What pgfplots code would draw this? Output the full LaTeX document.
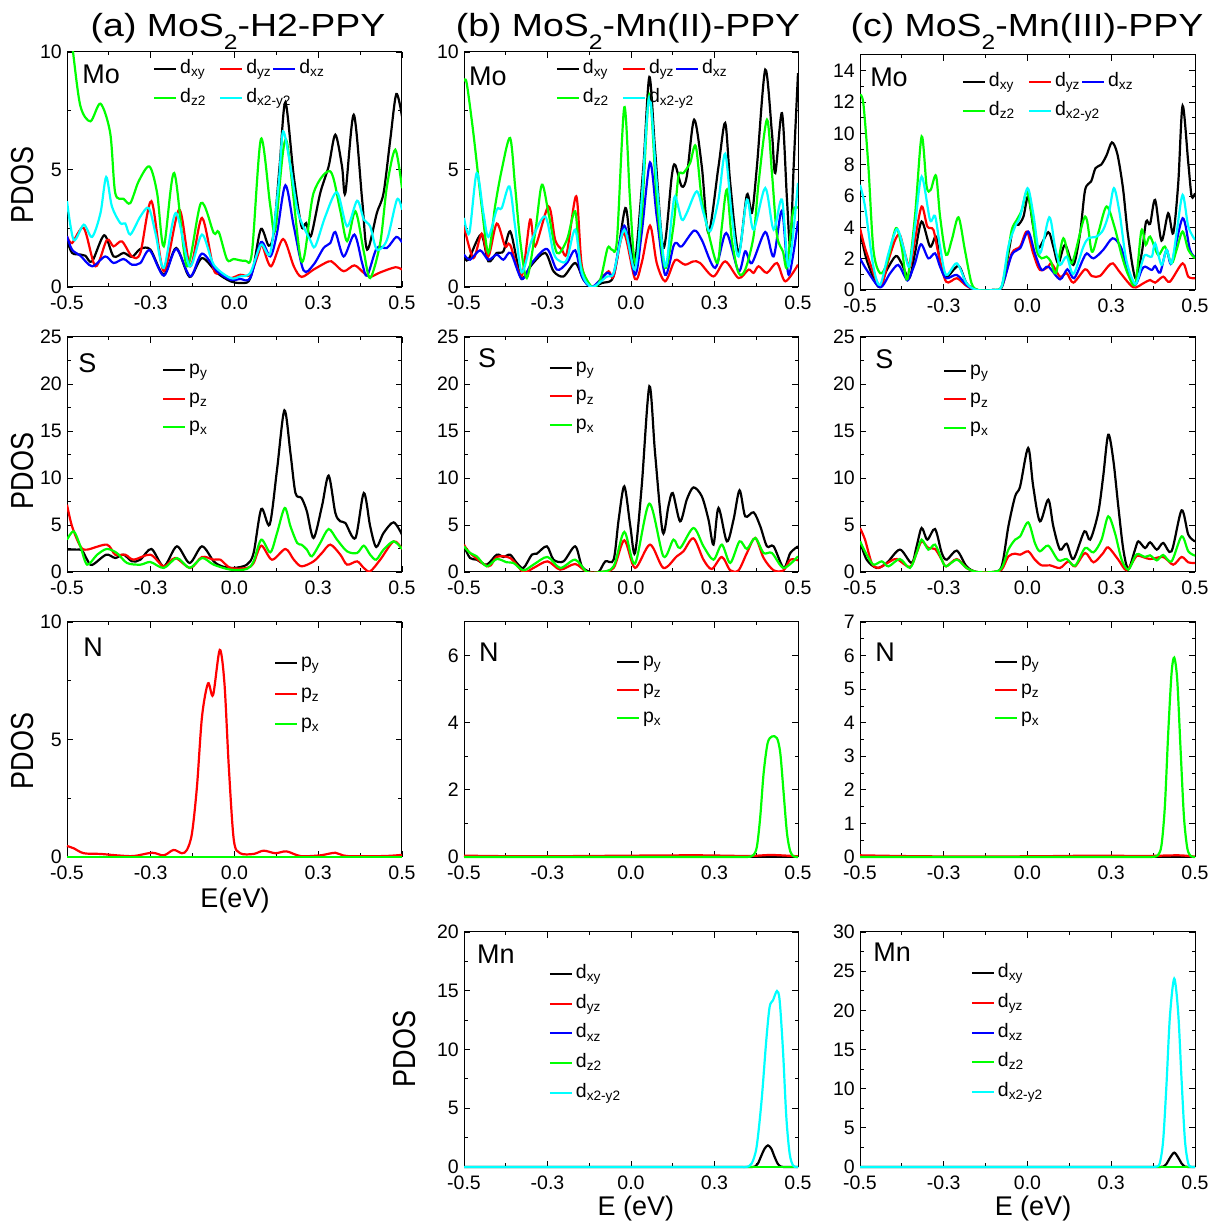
\documentclass[border=0pt]{standalone}
\usepackage{pgfplots}
\pgfplotsset{compat=1.18}
\usepackage{fontspec}
\setmainfont{Liberation Sans}
\definecolor{cgreen}{RGB}{0,255,0}
\definecolor{ccyan}{RGB}{0,255,255}
\definecolor{cred}{RGB}{255,0,0}
\definecolor{cblue}{RGB}{0,0,255}
\newcommand{\lf}{\fontsize{19.5}{21}\selectfont}
\newcommand{\ef}{\fontsize{27}{30}\selectfont}
\pgfplotsset{
  pdos/.style={
    scale only axis, width=335pt, height=235pt, anchor=south west,
    xmin=-0.5, xmax=0.5, ymin=0,
    xtick={-0.5,-0.25,0,0.25,0.5},
    xticklabels={-0.5,-0.3,0.0,0.3,0.5},
    minor x tick num=1, minor y tick num=1,
    tick align=inside,
    major tick length=6pt, minor tick length=3.5pt,
    tick style={black, line width=0.8pt},
    axis line style={line width=1pt},
    tick label style={font=\fontsize{19.5}{20}\selectfont, inner sep=0pt},
    xticklabel style={yshift=-9pt},
    yticklabel style={xshift=-5pt},
    /pgf/number format/assume math mode=true,
    legend style={draw=none, fill=none, anchor=north west, inner sep=0pt, outer sep=0pt, font=\lf,
      cells={anchor=west}, nodes={inner sep=1pt, text height=14pt, text depth=5pt}},
    legend image code/.code={\draw[#1, line width=2pt] (0pt,0pt) -- (22pt,0pt); \path (24pt,0pt);},
    every axis plot/.append style={line width=2.2pt, smooth, tension=0.5},
  }
}
\begin{document}
\begin{tikzpicture}
\useasboundingbox (0pt,0pt) rectangle (1219pt,1229pt);

% ---------------- (a) Mo
\begin{axis}[pdos, at={(67pt,942pt)}, ymax=10, ytick={0,5,10}, legend columns=3,
  legend style={at={(axis description cs:0.257,0.972)}, row sep=8pt}]
\addplot[black] coordinates {(-0.5,2.0) (-0.485,1.45) (-0.46,1.38) (-0.445,1.33) (-0.425,1.09) (-0.389,2.2) (-0.361,1.3) (-0.331,1.45) (-0.306,1.28) (-0.281,1.62) (-0.251,1.59) (-0.211,0.52) (-0.174,1.66) (-0.134,0.43) (-0.097,1.23) (-0.052,0.6) (-0.012,0.24) (0.017,0.17) (0.042,0.24) (0.057,0.88) (0.079,2.47) (0.102,1.76) (0.117,2.3) (0.135,5.2) (0.152,7.86) (0.177,4.7) (0.2,2.58) (0.214,2.72) (0.228,2.16) (0.256,4.0) (0.281,5.13) (0.301,6.48) (0.321,5.13) (0.331,4.0) (0.356,7.33) (0.381,3.72) (0.396,1.59) (0.425,3.15) (0.445,4.0) (0.465,6.27) (0.483,8.21) (0.5,7.26)};
\addlegendentry{d\textsubscript{xy}\hspace*{13pt}}
\addplot[cred] coordinates {(-0.5,2.16) (-0.485,1.87) (-0.45,2.51) (-0.415,0.88) (-0.381,2.0) (-0.361,1.73) (-0.336,1.94) (-0.306,1.3) (-0.281,1.45) (-0.248,3.65) (-0.211,0.67) (-0.165,3.29) (-0.132,0.88) (-0.097,2.94) (-0.062,0.74) (-0.042,0.6) (-0.012,0.38) (0.017,0.52) (0.047,0.52) (0.072,1.45) (0.082,1.8) (0.109,0.88) (0.145,2.04) (0.177,0.88) (0.2,0.43) (0.236,0.74) (0.281,1.09) (0.296,1.02) (0.326,0.67) (0.358,0.92) (0.386,0.6) (0.405,0.43) (0.435,0.62) (0.48,0.84) (0.5,0.74)};
\addlegendentry{d\textsubscript{yz}}
\addplot[cblue] coordinates {(-0.5,2.16) (-0.485,1.59) (-0.46,1.33) (-0.425,0.88) (-0.386,1.3) (-0.361,1.02) (-0.331,1.19) (-0.306,0.95) (-0.281,1.02) (-0.253,1.56) (-0.211,0.48) (-0.174,1.62) (-0.132,0.45) (-0.097,1.42) (-0.052,0.67) (-0.012,0.31) (0.017,0.34) (0.047,0.38) (0.079,1.91) (0.107,1.3) (0.127,2.3) (0.152,4.33) (0.177,2.58) (0.206,0.71) (0.236,0.95) (0.266,1.66) (0.286,1.87) (0.301,2.34) (0.326,1.3) (0.358,2.23) (0.381,1.02) (0.396,0.48) (0.425,1.66) (0.455,1.66) (0.483,2.13) (0.5,1.9)};
\addlegendentry{d\textsubscript{xz}}
\addplot[cgreen] coordinates {(-0.5,12.3) (-0.482,10.0) (-0.46,7.7) (-0.43,7.05) (-0.40,7.8) (-0.371,6.55) (-0.356,4.0) (-0.331,3.75) (-0.311,3.57) (-0.286,4.5) (-0.254,5.13) (-0.231,4.0) (-0.211,1.73) (-0.18,4.85) (-0.142,0.88) (-0.1,3.57) (-0.062,2.3) (-0.047,2.34) (-0.022,1.16) (-0.002,1.19) (0.032,1.12) (0.052,1.45) (0.079,6.3) (0.107,3.43) (0.122,2.44) (0.154,6.27) (0.2,1.09) (0.236,4.0) (0.286,4.92) (0.315,3.3) (0.336,1.95) (0.361,3.22) (0.386,1.5) (0.405,0.38) (0.435,1.87) (0.455,4.28) (0.48,5.84) (0.5,4.2)};
\addlegendentry{d\textsubscript{z2}}
\addplot[ccyan] coordinates {(-0.5,3.65) (-0.48,2.0) (-0.45,2.65) (-0.425,2.13) (-0.4,3.15) (-0.383,4.68) (-0.366,3.43) (-0.341,2.72) (-0.326,2.7) (-0.311,2.23) (-0.281,3.0) (-0.256,3.36) (-0.236,2.3) (-0.211,0.81) (-0.175,3.15) (-0.134,0.88) (-0.097,2.23) (-0.062,0.95) (-0.012,0.38) (0.017,0.45) (0.047,0.6) (0.079,1.8) (0.107,1.45) (0.132,4.43) (0.145,6.62) (0.167,5.13) (0.19,3.15) (0.226,2.0) (0.241,1.73) (0.271,3.0) (0.306,4.03) (0.336,2.58) (0.366,3.67) (0.386,2.87) (0.405,2.58) (0.425,1.59) (0.455,2.0) (0.485,3.72) (0.5,3.29)};
\addlegendentry{\makebox[0pt][l]{d\textsubscript{x2-y2}}}
\node[anchor=north west, inner sep=0pt, font=\ef] at (axis description cs:0.045,0.945) {Mo};
\end{axis}

% ---------------- (b) Mo
\begin{axis}[pdos, at={(464pt,942pt)}, width=334pt, ymax=10, ytick={0,5,10}, legend columns=3,
  legend style={at={(axis description cs:0.275,0.972)}, row sep=8pt}]
\addplot[black] coordinates {(-0.5,1.3) (-0.487,1.16) (-0.449,2.23) (-0.427,1.09) (-0.402,1.45) (-0.382,1.52) (-0.362,2.37) (-0.342,1.16) (-0.327,0.34) (-0.297,0.95) (-0.257,1.45) (-0.232,0.67) (-0.202,0.45) (-0.167,1.02) (-0.142,0.31) (-0.117,0.0) (-0.087,0.17) (-0.057,0.31) (-0.042,1.16) (-0.017,3.36) (-0.003,2.0) (0.012,1.02) (0.037,5.13) (0.055,8.94) (0.072,5.84) (0.097,1.66) (0.122,4.71) (0.132,5.2) (0.152,4.28) (0.167,4.71) (0.189,7.12) (0.212,5.13) (0.232,2.3) (0.262,5.13) (0.282,6.98) (0.297,4.43) (0.322,1.45) (0.347,3.93) (0.362,3.15) (0.377,5.13) (0.402,9.25) (0.422,6.55) (0.432,4.85) (0.452,7.4) (0.467,3.72) (0.477,1.73) (0.487,5.13) (0.5,9.1)};
\addlegendentry{d\textsubscript{xy}\hspace*{13pt}}
\addplot[cred] coordinates {(-0.5,2.58) (-0.472,1.23) (-0.447,2.27) (-0.427,1.3) (-0.402,2.7) (-0.377,1.73) (-0.362,1.8) (-0.327,0.48) (-0.302,2.87) (-0.287,1.73) (-0.247,3.43) (-0.227,2.0) (-0.207,1.59) (-0.192,1.45) (-0.164,3.86) (-0.147,0.88) (-0.117,0) (-0.092,0.31) (-0.067,0.67) (-0.052,0.45) (-0.022,2.3) (0.012,0.34) (0.032,1.02) (0.057,2.61) (0.077,1.02) (0.102,0.24) (0.127,1.02) (0.137,1.16) (0.162,0.95) (0.187,1.09) (0.207,1.02) (0.247,0.45) (0.282,1.09) (0.322,0.38) (0.352,0.74) (0.367,0.6) (0.382,0.88) (0.407,0.6) (0.437,1.02) (0.462,0.24) (0.5,0.95)};
\addlegendentry{d\textsubscript{yz}}
\addplot[cblue] coordinates {(-0.5,1.38) (-0.482,1.16) (-0.452,1.56) (-0.427,1.16) (-0.402,1.38) (-0.382,1.16) (-0.36,1.45) (-0.327,0.34) (-0.297,1.02) (-0.252,1.62) (-0.222,0.74) (-0.192,1.02) (-0.167,1.56) (-0.147,0.45) (-0.117,0) (-0.072,0.6) (-0.052,0.57) (-0.02,2.61) (0.012,0.52) (0.032,2.3) (0.057,5.3) (0.077,3.0) (0.102,0.52) (0.127,1.73) (0.137,1.87) (0.152,1.73) (0.189,2.4) (0.212,2.0) (0.252,0.81) (0.285,2.3) (0.322,0.67) (0.342,1.52) (0.362,1.02) (0.402,2.34) (0.427,1.3) (0.452,3.25) (0.472,0.52) (0.5,2.8)};
\addlegendentry{d\textsubscript{xz}}
\addplot[cgreen] coordinates {(-0.5,8.75) (-0.492,8.68) (-0.472,6.55) (-0.447,3.43) (-0.427,1.45) (-0.407,3.43) (-0.387,4.99) (-0.362,6.34) (-0.347,4.28) (-0.332,2.0) (-0.312,0.38) (-0.287,2.3) (-0.267,4.35) (-0.247,3.15) (-0.222,1.45) (-0.192,2.0) (-0.167,3.22) (-0.152,1.02) (-0.117,0) (-0.092,0.31) (-0.07,1.66) (-0.057,1.59) (-0.042,2.0) (-0.02,7.65) (-0.003,3.72) (0.012,1.02) (0.032,3.0) (0.055,8.2) (0.077,3.72) (0.102,0.81) (0.127,2.58) (0.142,4.71) (0.157,4.85) (0.177,5.28) (0.194,5.99) (0.212,3.72) (0.237,2.0) (0.259,1.02) (0.272,2.58) (0.287,4.14) (0.302,2.0) (0.322,0.6) (0.342,0.74) (0.367,2.16) (0.382,4.43) (0.407,7.12) (0.422,4.85) (0.437,2.2) (0.455,1.5) (0.467,0.85) (0.485,3.2) (0.5,3.36)};
\addlegendentry{d\textsubscript{z2}}
\addplot[ccyan] coordinates {(-0.5,2.94) (-0.484,2.3) (-0.462,4.85) (-0.442,3.15) (-0.427,2.13) (-0.402,3.29) (-0.387,3.36) (-0.364,4.28) (-0.347,2.58) (-0.327,0.62) (-0.297,2.0) (-0.257,3.0) (-0.232,1.45) (-0.212,1.09) (-0.192,1.16) (-0.167,2.44) (-0.147,0.6) (-0.117,0) (-0.072,0.45) (-0.052,0.6) (-0.02,2.44) (0.012,0.74) (0.032,3.72) (0.055,8.1) (0.077,4.43) (0.102,0.88) (0.122,3.0) (0.132,3.86) (0.152,2.87) (0.167,3.15) (0.197,4.07) (0.217,3.15) (0.237,2.37) (0.262,3.72) (0.282,5.67) (0.302,3.0) (0.322,1.3) (0.347,3.72) (0.367,2.44) (0.402,4.21) (0.427,2.44) (0.452,3.72) (0.472,0.88) (0.5,4.43)};
\addlegendentry{\makebox[0pt][l]{d\textsubscript{x2-y2}}}
\node[anchor=north west, inner sep=0pt, font=\ef] at (axis description cs:0.015,0.936) {Mo};
\end{axis}

% ---------------- (c) Mo
\begin{axis}[pdos, at={(860pt,939pt)}, ymax=15, ytick={0,2,...,14}, legend columns=3,
  legend style={at={(axis description cs:0.304,0.93)}, row sep=8pt}]
\addplot[black] coordinates {(-0.5,3.84) (-0.48,1.92) (-0.445,0.21) (-0.42,1.28) (-0.393,2.17) (-0.376,1.7) (-0.353,0.75) (-0.336,2.34) (-0.316,4.37) (-0.291,2.77) (-0.273,3.41) (-0.261,1.7) (-0.243,0.81) (-0.206,1.53) (-0.182,0.43) (-0.152,0) (-0.102,0) (-0.077,0.21) (-0.057,2.34) (-0.042,4.05) (-0.027,4.16) (-0.012,4.69) (0.002,5.97) (0.017,4.05) (0.032,2.66) (0.062,3.69) (0.077,2.77) (0.092,1.7) (0.112,2.88) (0.137,1.6) (0.157,3.62) (0.172,6.39) (0.19,6.93) (0.203,7.78) (0.22,8.0) (0.236,8.6) (0.252,9.42) (0.268,8.7) (0.285,6.5) (0.3,3.5) (0.322,0.75) (0.341,2.34) (0.354,4.37) (0.366,4.22) (0.381,5.75) (0.4,3.15) (0.42,4.9) (0.435,3.62) (0.45,6.82) (0.463,11.76) (0.48,8.1) (0.49,5.97) (0.5,6.18)};
\addlegendentry{d\textsubscript{xy}\hspace*{13pt}}
\addplot[cred] coordinates {(-0.5,3.94) (-0.48,2.34) (-0.44,0.21) (-0.415,1.92) (-0.395,3.2) (-0.381,3.52) (-0.366,2.34) (-0.351,1.49) (-0.336,3.2) (-0.316,5.33) (-0.299,4.05) (-0.281,3.84) (-0.266,2.34) (-0.243,0.53) (-0.211,0.75) (-0.182,0.26) (-0.152,0) (-0.102,0) (-0.077,0.17) (-0.047,2.34) (-0.022,2.77) (-0.002,3.73) (0.017,2.34) (0.037,1.28) (0.062,1.49) (0.072,1.7) (0.097,0.85) (0.117,1.07) (0.137,0.47) (0.172,1.32) (0.192,0.89) (0.216,0.89) (0.24,1.49) (0.255,1.7) (0.278,1.07) (0.316,0.17) (0.346,0.43) (0.366,0.64) (0.381,0.47) (0.405,0.85) (0.425,0.53) (0.463,1.7) (0.48,0.85) (0.5,0.75)};
\addlegendentry{d\textsubscript{yz}}
\addplot[cblue] coordinates {(-0.5,2.02) (-0.48,1.28) (-0.44,0.17) (-0.41,1.07) (-0.386,1.6) (-0.366,0.85) (-0.356,0.64) (-0.336,1.7) (-0.318,2.92) (-0.296,2.02) (-0.276,2.34) (-0.261,1.49) (-0.243,0.75) (-0.211,0.96) (-0.182,0.32) (-0.152,0) (-0.102,0) (-0.077,0.17) (-0.047,2.24) (-0.022,2.66) (0.002,3.73) (0.022,2.34) (0.042,1.28) (0.062,1.49) (0.097,0.68) (0.119,1.32) (0.139,0.75) (0.165,1.92) (0.177,2.34) (0.197,2.02) (0.226,2.56) (0.254,3.3) (0.278,2.77) (0.3,1.28) (0.321,0.32) (0.341,1.28) (0.351,1.49) (0.371,1.28) (0.381,1.53) (0.396,1.11) (0.415,2.56) (0.43,1.7) (0.463,4.58) (0.485,2.56) (0.5,2.09)};
\addlegendentry{d\textsubscript{xz}}
\addplot[cgreen] coordinates {(-0.5,12.47) (-0.49,11.9) (-0.475,7.9) (-0.46,2.56) (-0.44,1.07) (-0.42,1.7) (-0.393,3.94) (-0.376,2.77) (-0.359,0.68) (-0.336,4.69) (-0.316,9.8) (-0.301,6.6) (-0.289,6.39) (-0.273,7.29) (-0.261,4.69) (-0.243,2.24) (-0.226,3.2) (-0.206,4.64) (-0.187,2.56) (-0.167,0.43) (-0.147,0) (-0.102,0) (-0.077,0.21) (-0.062,1.92) (-0.047,3.84) (-0.032,4.47) (-0.017,5.11) (-0.002,6.29) (0.012,4.9) (0.027,2.56) (0.042,2.02) (0.057,2.13) (0.07,1.8) (0.085,1.07) (0.107,3.3) (0.132,1.7) (0.172,4.69) (0.192,2.45) (0.211,3.62) (0.236,5.33) (0.26,4.0) (0.28,2.3) (0.3,1.0) (0.322,0.4) (0.34,3.79) (0.353,2.88) (0.366,3.41) (0.39,2.24) (0.41,2.77) (0.43,1.7) (0.445,2.56) (0.463,3.73) (0.48,2.56) (0.5,2.02)};
\addlegendentry{d\textsubscript{z2}}
\addplot[ccyan] coordinates {(-0.5,6.71) (-0.485,5.33) (-0.46,1.49) (-0.44,0.32) (-0.415,2.34) (-0.39,3.88) (-0.371,2.77) (-0.353,1.49) (-0.336,4.05) (-0.316,7.24) (-0.291,4.47) (-0.276,4.73) (-0.261,2.77) (-0.243,0.96) (-0.211,1.7) (-0.182,0.43) (-0.152,0) (-0.102,0) (-0.077,0.26) (-0.057,2.77) (-0.037,4.05) (-0.022,4.69) (0.0,6.5) (0.017,4.9) (0.037,2.34) (0.065,4.64) (0.082,2.77) (0.097,1.6) (0.117,2.13) (0.137,1.02) (0.167,2.77) (0.182,3.3) (0.206,3.41) (0.226,3.84) (0.243,4.9) (0.258,6.5) (0.275,4.9) (0.295,1.9) (0.322,0.38) (0.341,1.7) (0.351,2.24) (0.371,2.13) (0.381,2.98) (0.4,1.6) (0.415,2.56) (0.43,1.7) (0.445,3.62) (0.463,6.07) (0.48,4.05) (0.5,3.2)};
\addlegendentry{\makebox[0pt][l]{d\textsubscript{x2-y2}}}
\node[anchor=north west, inner sep=0pt, font=\ef] at (axis description cs:0.03,0.945) {Mo};
\end{axis}

% ---------------- (a) S
\begin{axis}[pdos, at={(67pt,657pt)}, ymax=25, ytick={0,5,...,25},
  legend style={at={(axis description cs:0.284,0.904)}, row sep=7.5pt}]
\addplot[black] coordinates {(-0.5,2.38) (-0.47,2.38) (-0.455,2.3) (-0.44,1.31) (-0.425,0.75) (-0.383,1.84) (-0.356,1.49) (-0.331,1.84) (-0.306,1.13) (-0.281,1.31) (-0.248,2.45) (-0.211,0.6) (-0.172,2.73) (-0.134,0.96) (-0.097,2.73) (-0.062,1.13) (-0.037,0.6) (-0.002,0.43) (0.037,0.78) (0.057,2.02) (0.08,6.7) (0.105,5.04) (0.127,10.9) (0.149,17.2) (0.167,12.66) (0.182,8.4) (0.2,7.87) (0.216,6.45) (0.236,3.62) (0.261,6.99) (0.281,10.25) (0.301,6.28) (0.316,5.39) (0.331,5.21) (0.361,3.62) (0.386,8.4) (0.405,4.86) (0.423,2.66) (0.445,4.15) (0.475,5.28) (0.5,3.97)};
\addlegendentry{p\textsubscript{y}}
\addplot[cred] coordinates {(-0.5,7.16) (-0.485,4.86) (-0.46,2.73) (-0.44,2.38) (-0.381,2.91) (-0.356,1.84) (-0.326,1.84) (-0.301,1.31) (-0.251,1.84) (-0.211,0.6) (-0.177,1.49) (-0.132,0.43) (-0.097,1.6) (-0.062,1.31) (-0.042,1.31) (-0.012,0.43) (0.037,0.43) (0.057,0.96) (0.08,2.8) (0.112,1.31) (0.152,2.45) (0.177,1.31) (0.2,0.6) (0.236,1.13) (0.261,2.02) (0.286,2.91) (0.316,1.84) (0.336,0.78) (0.366,1.13) (0.386,0.43) (0.405,0.07) (0.435,1.31) (0.475,3.26) (0.5,2.45)};
\addlegendentry{p\textsubscript{z}}
\addplot[cgreen] coordinates {(-0.5,3.44) (-0.48,4.33) (-0.46,2.73) (-0.44,0.78) (-0.41,1.84) (-0.381,2.45) (-0.351,2.02) (-0.321,0.96) (-0.281,0.78) (-0.251,1.06) (-0.211,0.43) (-0.172,1.49) (-0.134,0.43) (-0.097,1.49) (-0.062,0.78) (-0.012,0.25) (0.037,0.32) (0.057,1.13) (0.08,3.44) (0.107,2.09) (0.127,4.15) (0.15,6.81) (0.167,4.86) (0.187,3.09) (0.2,2.91) (0.216,2.38) (0.231,1.67) (0.256,3.09) (0.281,4.57) (0.306,3.44) (0.336,2.2) (0.366,2.02) (0.386,2.8) (0.405,1.84) (0.423,1.31) (0.445,2.38) (0.475,3.26) (0.5,2.45)};
\addlegendentry{p\textsubscript{x}}
\node[anchor=north west, inner sep=0pt, font=\ef] at (axis description cs:0.033,0.932) {S};
\end{axis}

% ---------------- (b) S
\begin{axis}[pdos, at={(464pt,657pt)}, width=334pt, ymax=25, ytick={0,5,...,25},
  legend style={at={(axis description cs:0.254,0.913)}, row sep=7.5pt}]
\addplot[black] coordinates {(-0.5,2.73) (-0.482,1.49) (-0.462,1.31) (-0.432,0.78) (-0.402,1.84) (-0.382,1.6) (-0.362,1.84) (-0.342,0.96) (-0.322,0.43) (-0.297,1.84) (-0.282,1.95) (-0.252,2.73) (-0.232,1.31) (-0.202,1.13) (-0.167,2.73) (-0.147,0.6) (-0.122,0) (-0.097,0) (-0.077,1.13) (-0.052,1.31) (-0.037,5.57) (-0.02,9.11) (-0.002,4.86) (0.012,2.02) (0.032,9.11) (0.055,19.75) (0.072,12.66) (0.095,4.22) (0.112,6.99) (0.125,8.4) (0.147,5.39) (0.167,7.7) (0.187,9.0) (0.212,8.05) (0.232,5.57) (0.247,2.91) (0.262,6.81) (0.287,3.26) (0.307,5.57) (0.325,8.69) (0.342,5.92) (0.367,6.35) (0.387,4.86) (0.407,2.73) (0.427,2.73) (0.457,0.43) (0.477,2.02) (0.5,2.73)};
\addlegendentry{p\textsubscript{y}}
\addplot[cred] coordinates {(-0.5,2.91) (-0.482,2.02) (-0.427,0.6) (-0.402,1.6) (-0.362,1.49) (-0.322,0) (-0.292,0.43) (-0.25,1.13) (-0.212,0.25) (-0.167,0.85) (-0.132,0) (-0.092,0) (-0.052,0.43) (-0.02,3.37) (0.012,0.43) (0.057,2.91) (0.097,0.43) (0.137,1.67) (0.157,2.2) (0.187,3.58) (0.217,1.31) (0.242,0.32) (0.272,1.6) (0.297,0.18) (0.322,0.18) (0.347,2.02) (0.372,3.62) (0.397,1.49) (0.427,0.18) (0.457,0.18) (0.477,1.31) (0.5,1.24)};
\addlegendentry{p\textsubscript{z}}
\addplot[cgreen] coordinates {(-0.5,2.73) (-0.482,2.02) (-0.462,1.67) (-0.432,0.6) (-0.402,1.38) (-0.372,1.03) (-0.352,0.96) (-0.322,0.18) (-0.292,0.78) (-0.25,1.6) (-0.212,0.43) (-0.167,1.31) (-0.132,0) (-0.092,0) (-0.052,0.6) (-0.02,4.26) (0.012,0.89) (0.055,7.27) (0.097,1.67) (0.127,3.44) (0.147,2.55) (0.187,4.68) (0.217,2.73) (0.247,1.31) (0.272,2.91) (0.297,0.96) (0.325,3.26) (0.347,2.45) (0.372,3.62) (0.397,2.02) (0.422,2.02) (0.457,0.43) (0.5,1.67)};
\addlegendentry{p\textsubscript{x}}
\node[anchor=north west, inner sep=0pt, font=\ef] at (axis description cs:0.042,0.953) {S};
\end{axis}

% ---------------- (c) S
\begin{axis}[pdos, at={(860pt,657pt)}, ymax=25, ytick={0,5,...,25},
  legend style={at={(axis description cs:0.248,0.9)}, row sep=7.5pt}]
\addplot[black] coordinates {(-0.5,3.26) (-0.48,1.31) (-0.45,0.43) (-0.42,0.96) (-0.381,2.38) (-0.346,0.96) (-0.331,2.73) (-0.316,4.68) (-0.299,3.44) (-0.276,4.57) (-0.256,2.02) (-0.241,1.31) (-0.211,2.27) (-0.182,0.6) (-0.152,0) (-0.102,0) (-0.077,0.6) (-0.057,4.86) (-0.037,8.05) (-0.022,9.11) (0.002,13.19) (0.017,9.11) (0.037,5.39) (0.062,7.7) (0.077,4.86) (0.097,2.38) (0.117,3.01) (0.137,1.38) (0.17,4.33) (0.187,3.44) (0.211,6.28) (0.226,10.18) (0.241,14.61) (0.256,11.95) (0.271,6.99) (0.286,2.38) (0.301,0.32) (0.321,2.38) (0.331,3.26) (0.351,2.55) (0.366,3.16) (0.386,2.38) (0.405,3.09) (0.43,2.2) (0.46,6.56) (0.48,3.97) (0.5,3.26)};
\addlegendentry{p\textsubscript{y}}
\addplot[cred] coordinates {(-0.5,4.68) (-0.485,3.44) (-0.465,0.96) (-0.445,0.43) (-0.41,1.13) (-0.39,1.38) (-0.351,0.53) (-0.331,2.02) (-0.316,3.26) (-0.296,2.55) (-0.276,2.45) (-0.256,1.31) (-0.243,0.6) (-0.211,1.38) (-0.182,0.43) (-0.152,0) (-0.102,0) (-0.077,0.25) (-0.057,1.67) (-0.037,1.95) (-0.022,1.84) (0.002,2.2) (0.022,1.31) (0.042,0.71) (0.067,0.71) (0.097,0.43) (0.122,1.13) (0.142,0.6) (0.172,2.02) (0.197,1.03) (0.226,2.02) (0.241,2.62) (0.271,1.31) (0.296,0.18) (0.321,1.49) (0.331,1.74) (0.366,1.38) (0.405,1.6) (0.435,0.78) (0.46,1.6) (0.48,1.03) (0.5,0.96)};
\addlegendentry{p\textsubscript{z}}
\addplot[cgreen] coordinates {(-0.5,3.26) (-0.48,1.84) (-0.46,0.78) (-0.435,1.13) (-0.415,0.6) (-0.381,1.38) (-0.351,0.43) (-0.331,2.02) (-0.316,3.44) (-0.296,2.38) (-0.276,2.91) (-0.256,1.31) (-0.243,0.6) (-0.211,1.31) (-0.182,0.43) (-0.152,0) (-0.102,0) (-0.077,0.43) (-0.057,2.38) (-0.037,3.44) (-0.022,3.79) (0.002,5.28) (0.022,3.09) (0.037,2.2) (0.062,2.8) (0.092,1.24) (0.117,1.38) (0.142,0.67) (0.172,2.55) (0.197,2.09) (0.221,3.44) (0.241,5.92) (0.261,4.15) (0.281,1.31) (0.301,0.25) (0.321,1.67) (0.331,1.91) (0.351,1.6) (0.366,1.77) (0.386,1.24) (0.405,1.81) (0.43,1.13) (0.46,3.79) (0.48,2.2) (0.5,1.74)};
\addlegendentry{p\textsubscript{x}}
\node[anchor=north west, inner sep=0pt, font=\ef] at (axis description cs:0.045,0.945) {S};
\end{axis}

% ---------------- (a) N
\begin{axis}[pdos, at={(67pt,372pt)}, ymax=10, ytick={0,5,10}, clip=false,
  legend style={at={(axis description cs:0.618,0.87)}, row sep=9.5pt}]
\addplot[black] coordinates {(-0.5,0) (0.5,0)};
\addlegendentry{p\textsubscript{y}}
\addplot[cred] coordinates {(-0.5,0.47) (-0.48,0.37) (-0.45,0.16) (-0.4,0.13) (-0.351,0.07) (-0.301,0.04) (-0.246,0.18) (-0.211,0.07) (-0.182,0.3) (-0.157,0.16) (-0.142,0.3) (-0.127,1.0) (-0.112,3.0) (-0.097,5.97) (-0.079,7.39) (-0.064,6.89) (-0.044,8.81) (-0.030,7.39) (-0.017,3.84) (-0.002,0.72) (0.017,0.16) (0.057,0.13) (0.087,0.27) (0.122,0.16) (0.155,0.24) (0.197,0.04) (0.256,0.07) (0.301,0.18) (0.336,0.04) (0.445,0.04) (0.5,0.09)};
\addlegendentry{p\textsubscript{z}}
\addplot[cgreen] coordinates {(-0.5,0) (0.5,0)};
\addlegendentry{p\textsubscript{x}}
\node[anchor=north west, inner sep=0pt, font=\ef] at (axis description cs:0.048,0.932) {N};
\end{axis}

% ---------------- (b) N
\begin{axis}[pdos, at={(464pt,372pt)}, width=334pt, ymax=7, ytick={0,2,4,6}, clip=false,
  legend style={at={(axis description cs:0.455,0.874)}, row sep=7pt}]
\addplot[black] coordinates {(-0.5,0) (0.5,0)};
\addlegendentry{p\textsubscript{y}}
\addplot[cred] coordinates {(-0.5,0.04) (-0.3,0.02) (0.0,0.04) (0.2,0.05) (0.35,0.03) (0.42,0.06) (0.5,0.02)};
\addlegendentry{p\textsubscript{z}}
\addplot[cgreen] coordinates {(-0.5,0) (0.2,0) (0.3,0) (0.337,0) (0.347,0) (0.357,0.01) (0.367,0.06) (0.377,0.31) (0.387,1.2) (0.397,2.49) (0.409,3.39) (0.422,3.59) (0.437,3.54) (0.447,3.09) (0.457,1.9) (0.467,0.71) (0.477,0.16) (0.487,0.02) (0.495,0) (0.5,0)};
\addlegendentry{p\textsubscript{x}}
\node[anchor=north west, inner sep=0pt, font=\ef] at (axis description cs:0.045,0.91) {N};
\end{axis}

% ---------------- (c) N
\begin{axis}[pdos, at={(860pt,372pt)}, ymax=7, ytick={0,1,...,7}, clip=false,
  legend style={at={(axis description cs:0.4,0.874)}, row sep=7pt}]
\addplot[black] coordinates {(-0.5,0) (0.5,0)};
\addlegendentry{p\textsubscript{y}}
\addplot[cred] coordinates {(-0.5,0.05) (-0.3,0.02) (0.0,0.02) (0.2,0.04) (0.35,0.03) (0.45,0.05) (0.5,0.01)};
\addlegendentry{p\textsubscript{z}}
\addplot[cgreen] coordinates {(-0.5,0) (0.2,0) (0.3,0) (0.36,0) (0.37,0) (0.38,0.01) (0.39,0.06) (0.4,0.35) (0.41,1.5) (0.42,3.68) (0.43,5.47) (0.438,5.94) (0.447,5.27) (0.457,3.19) (0.467,1.2) (0.477,0.26) (0.487,0.03) (0.495,0) (0.5,0)};
\addlegendentry{p\textsubscript{x}}
\node[anchor=north west, inner sep=0pt, font=\ef] at (axis description cs:0.045,0.91) {N};
\end{axis}

% ---------------- (b) Mn
\begin{axis}[pdos, at={(464pt,62pt)}, width=334pt, ymax=20, ytick={0,5,...,20}, clip=false,
  legend style={at={(axis description cs:0.254,0.866)}, row sep=8.75pt}]
\addplot[black] coordinates {(-0.5,0) (0.2,0) (0.3,0) (0.35,0) (0.36,0) (0.37,0.02) (0.38,0.3) (0.39,0.95) (0.4,1.56) (0.41,1.84) (0.42,1.56) (0.43,0.85) (0.44,0.25) (0.45,0.02) (0.46,0) (0.47,0) (0.5,0)};
\addlegendentry{d\textsubscript{xy}}
\addplot[cred] coordinates {(-0.5,0) (0.5,0)};
\addlegendentry{d\textsubscript{yz}}
\addplot[cblue] coordinates {(-0.5,0) (0.5,0)};
\addlegendentry{d\textsubscript{xz}}
\addplot[cgreen] coordinates {(-0.5,0) (0.5,0)};
\addlegendentry{d\textsubscript{z2}}
\addplot[ccyan] coordinates {(-0.5,0) (0.2,0) (0.3,0) (0.33,0) (0.345,0) (0.361,0.28) (0.376,1.7) (0.391,5.67) (0.405,10.78) (0.415,13.62) (0.425,14.18) (0.437,14.98) (0.445,14.18) (0.455,9.93) (0.465,4.26) (0.475,1.13) (0.485,0.14) (0.495,0) (0.5,0)};
\addlegendentry{d\textsubscript{x2-y2}}
\node[anchor=north west, inner sep=0pt, font=\ef] at (axis description cs:0.039,0.945) {Mn};
\end{axis}

% ---------------- (c) Mn
\begin{axis}[pdos, at={(860pt,62pt)}, ymax=30, ytick={0,5,...,30}, clip=false,
  legend style={at={(axis description cs:0.331,0.87)}, row sep=8.75pt}]
\addplot[black] coordinates {(-0.5,0) (0.2,0) (0.3,0) (0.38,0) (0.395,0) (0.405,0.05) (0.415,0.4) (0.425,1.15) (0.438,1.83) (0.45,1.2) (0.46,0.45) (0.47,0.05) (0.48,0) (0.49,0) (0.5,0)};
\addlegendentry{d\textsubscript{xy}}
\addplot[cred] coordinates {(-0.5,0) (0.5,0)};
\addlegendentry{d\textsubscript{yz}}
\addplot[cblue] coordinates {(-0.5,0) (0.5,0)};
\addlegendentry{d\textsubscript{xz}}
\addplot[cgreen] coordinates {(-0.5,0) (0.5,0)};
\addlegendentry{d\textsubscript{z2}}
\addplot[ccyan] coordinates {(-0.5,0) (0.2,0) (0.3,0) (0.365,0) (0.375,0) (0.385,0.05) (0.395,0.5) (0.405,3.4) (0.415,10.64) (0.425,19.15) (0.438,24.04) (0.45,19.57) (0.46,11.06) (0.47,3.4) (0.48,0.43) (0.49,0.02) (0.5,0)};
\addlegendentry{d\textsubscript{x2-y2}}
\node[anchor=north west, inner sep=0pt, font=\ef] at (axis description cs:0.039,0.953) {Mn};
\end{axis}

% ---------------- titles and labels
\node[anchor=base, inner sep=0pt, xscale=1.17, font=\fontsize{32}{36}\selectfont] at (238pt,1192pt) {(a) MoS\raisebox{-13pt}{\fontsize{21}{21}\selectfont 2}-H2-PPY};
\node[anchor=base, inner sep=0pt, xscale=1.17, font=\fontsize{32}{36}\selectfont] at (628pt,1192pt) {(b) MoS\raisebox{-13pt}{\fontsize{21}{21}\selectfont 2}-Mn(II)-PPY};
\node[anchor=base, inner sep=0pt, xscale=1.17, font=\fontsize{32}{36}\selectfont] at (1027pt,1192pt) {(c) MoS\raisebox{-13pt}{\fontsize{21}{21}\selectfont 2}-Mn(III)-PPY};
\node[rotate=90, yscale=1.18, inner sep=0pt, font=\ef] at (23pt,1044pt) {PDOS};
\node[rotate=90, yscale=1.18, inner sep=0pt, font=\ef] at (23pt,758pt) {PDOS};
\node[rotate=90, yscale=1.18, inner sep=0pt, font=\ef] at (23pt,478pt) {PDOS};
\node[rotate=90, yscale=1.18, inner sep=0pt, font=\ef] at (405pt,180pt) {PDOS};
\node[inner sep=0pt, font=\ef] at (235pt,328pt) {E(eV)};
\node[inner sep=0pt, font=\ef] at (636pt,20pt) {E (eV)};
\node[inner sep=0pt, font=\ef] at (1033pt,20pt) {E (eV)};
\end{tikzpicture}
\end{document}
